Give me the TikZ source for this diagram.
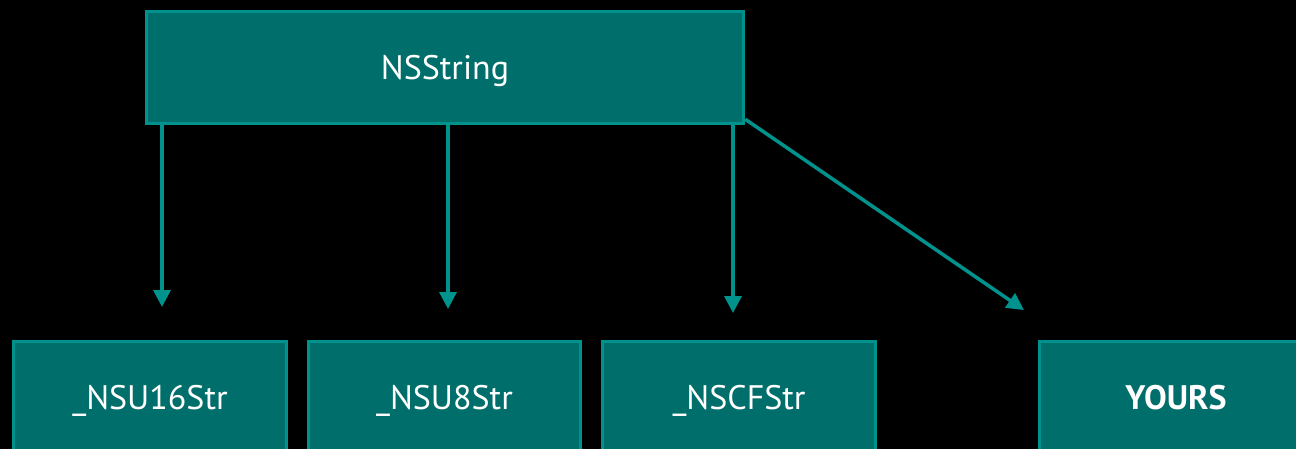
\documentclass[tikz,border=0pt]{standalone}
\usepackage{fontspec}
\setmainfont{PT Sans}
\usetikzlibrary{arrows.meta}
\definecolor{boxfill}{RGB}{0,111,108}
\definecolor{boxline}{RGB}{0,146,141}
\begin{document}
\begin{tikzpicture}[x=1pt,y=-1pt,
  box/.style={draw=boxline, fill=boxfill, line width=3.5pt, text=white,
    inner sep=0pt, minimum height=112pt, text depth=0pt,
    font=\fontsize{34}{40}\selectfont},
  conn/.style={draw=boxline, line width=3.5pt,
    -{Triangle[width=17pt,length=17pt]}}]
\useasboundingbox (0,0) rectangle (1296,449);
\fill[black] (0,0) rectangle (1296,449);
\clip (0,0) rectangle (1296,449);
\node[box, minimum width=597pt] (ns) at (445,67.5) {NSString};
\node[box, minimum width=273pt] (u16) at (150,397.5) {\_NSU16Str};
\node[box, minimum width=272pt] (u8) at (444.5,397.5) {\_NSU8Str};
\node[box, minimum width=273pt] (cf) at (739,397.5) {\_NSCFStr};
\node[box, minimum width=273pt] (yours) at (1176,397.5) {\textbf{YOURS}};
\coordinate (t1) at (162,307);
\coordinate (t2) at (448,309);
\coordinate (t3) at (733,313);
\coordinate (t4) at (1024,310);
\draw[conn] (ns.south -| t1) -- (t1);
\draw[conn] (ns.south -| t2) -- (t2);
\draw[conn] (ns.south -| t3) -- (t3);
\draw[conn] (ns.south east) ++(0,-6) -- (t4);
\end{tikzpicture}
\end{document}
